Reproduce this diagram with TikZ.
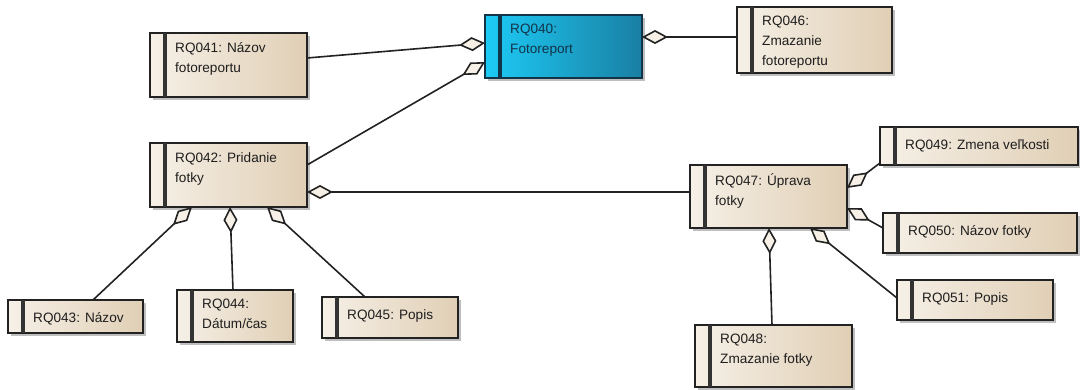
\documentclass[tikz,border=0pt]{standalone}
\usepackage{fontspec}
\setmainfont{Liberation Sans}
\usetikzlibrary{arrows.meta,calc,shadows}

\definecolor{creamL}{HTML}{F6F0E7}
\definecolor{creamR}{HTML}{E0CFB5}
\definecolor{cyanL}{HTML}{1CCBF6}
\definecolor{cyanR}{HTML}{1A7FA3}
\definecolor{edge}{HTML}{222222}
\definecolor{barcol}{HTML}{333333}
\definecolor{navy}{HTML}{123449}
\definecolor{txt}{HTML}{1E1E1E}
\definecolor{diafill}{HTML}{F6F0E7}

\tikzset{
  boxcream/.style={draw=edge, line width=1.7pt, inner sep=0pt, outer sep=0pt,
    left color=creamL, right color=creamR,
    drop shadow={shadow xshift=2.5pt, shadow yshift=-2.5pt, fill=black, opacity=0.25}},
  boxcyan/.style={boxcream, draw=navy, left color=cyanL, right color=cyanR},
  barcream/.style={draw=barcol, line width=3.2pt},
  barcyan/.style={draw=navy, line width=3.2pt},
  textcream/.style={text=txt, inner sep=0pt, align=left,
    font=\fontsize{13.6}{20}\selectfont,
    execute at begin node={\rule{0pt}{13pt}}},
  textcyan/.style={textcream, text=navy},
  agg/.style={draw=edge, line width=1.6pt,
    -{Diamond[length=26pt, width=14pt, fill=diafill]}}
}

% requirement box: colour scheme, name, left, top, width, height, text
\newcommand{\ReqBox}[7]{%
  \node[box#1, minimum width=#5pt, minimum height=#6pt, anchor=north west] (#2) at (#3,#4) {};
  \draw[bar#1] ($(#2.north west)+(15,0)$) -- ($(#2.south west)+(15,0)$);
  \node[text#1, anchor=north west] (#2-t) at ($(#2.north west)+(25,9)$) {#7};
}

\begin{document}
\begin{tikzpicture}[x=1pt, y=-1pt]
\useasboundingbox (0,0) rectangle (1080,389);

\ReqBox{cyan}{r40}{485}{15}{157}{63}{RQ040:\\Fotoreport}
\ReqBox{cream}{r41}{150}{33}{157}{64}{RQ041: Názov\\fotoreportu}
\ReqBox{cream}{r46}{737}{7}{155}{66}{RQ046:\\Zmazanie\\fotoreportu}
\ReqBox{cream}{r42}{150}{143}{157}{64}{RQ042: Pridanie\\fotky}
\ReqBox{cream}{r47}{690}{165}{157}{63}{RQ047: Úprava\\fotky}
\ReqBox{cream}{r49}{880}{127}{198}{38}{RQ049: Zmena veľkosti}
\ReqBox{cream}{r50}{883}{213}{194}{40}{RQ050: Názov fotky}
\ReqBox{cream}{r43}{8}{300}{135}{33}{RQ043: Názov}
\ReqBox{cream}{r44}{177}{290}{116}{52}{RQ044:\\Dátum/čas}
\ReqBox{cream}{r45}{322}{297}{136}{41}{RQ045: Popis}
\ReqBox{cream}{r51}{897}{280}{156}{40}{RQ051: Popis}
\ReqBox{cream}{r48}{695}{325}{157}{62}{RQ048:\\Zmazanie fotky}

% aggregation connectors, diamond at the whole
\draw[agg] ($(r41.north east)+(0,25)$) -- ($(r40.north west)+(0,28)$);
\draw[agg] ($(r42.north east)+(0,22)$) -- ($(r40.north west)+(0,47)$);
\draw[agg] ($(r46.north west)+(0,30)$) -- ($(r40.north east)+(0,22)$);
\draw[agg] ($(r47.north west)+(0,27)$) -- ($(r42.north east)+(0,49)$);
\draw[agg] ($(r43.north west)+(85,0)$) -- ($(r42.south west)+(42,0)$);
\draw[agg] ($(r44.north west)+(56,0)$) -- ($(r42.south west)+(80,0)$);
\draw[agg] ($(r45.north west)+(43,0)$) -- ($(r42.south west)+(117,0)$);
\draw[agg] ($(r49.south west)+(0,-2)$) -- ($(r47.north east)+(0,23)$);
\draw[agg] ($(r50.north west)+(0,15)$) -- ($(r47.north east)+(0,43)$);
\draw[agg] ($(r48.north west)+(77,0)$) -- ($(r47.south west)+(79,0)$);
\draw[agg] ($(r51.north west)+(0,18)$) -- ($(r47.south west)+(120,0)$);
\end{tikzpicture}
\end{document}
